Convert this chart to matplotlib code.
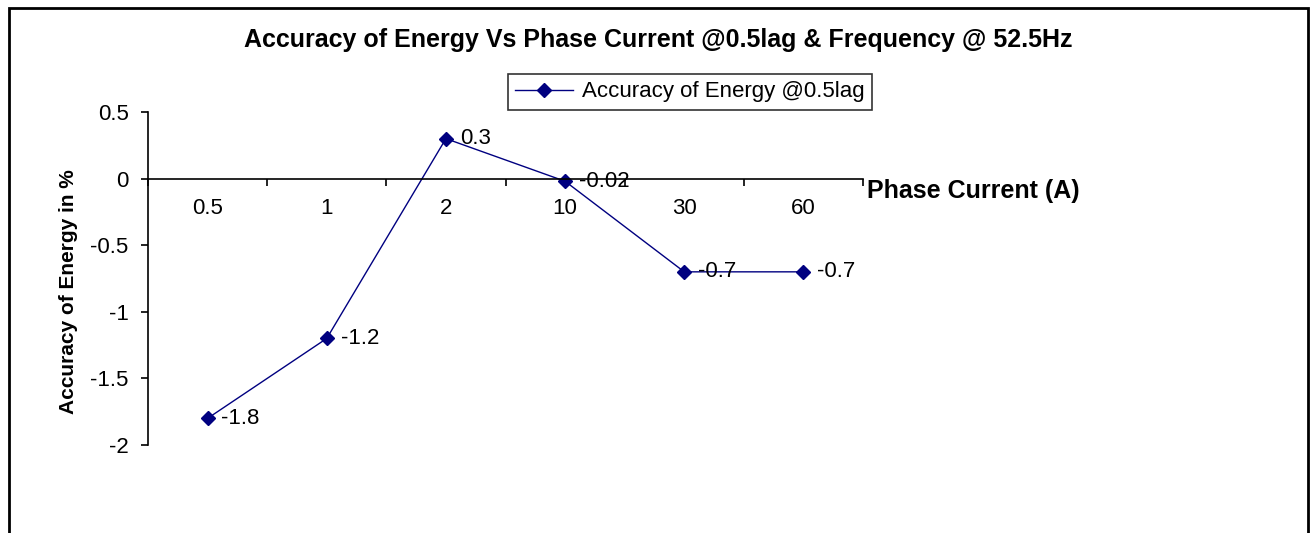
import matplotlib.pyplot as plt
from matplotlib.patches import Rectangle
from matplotlib.ticker import FixedLocator

# Data
currents = ['0.5', '1', '2', '10', '30', '60']
accuracy = [-1.8, -1.2, 0.3, -0.02, -0.7, -0.7]
labels = ['-1.8', '-1.2', '0.3', '-0.02', '-0.7', '-0.7']

plt.rcParams['font.family'] = ['Liberation Sans', 'DejaVu Sans']

fig = plt.figure(figsize=(13.13, 5.33), dpi=100)
ax = fig.add_axes([148 / 1313, 1 - 445 / 533, (863 - 148) / 1313, (445 - 112) / 533])

# outer chart border (bottom edge runs past the image)
fig.patches.append(Rectangle((9 / 1313, -0.05), 1299 / 1313, 1.05 - 8 / 533,
                             transform=fig.transFigure, fill=False,
                             edgecolor='black', linewidth=2))

x = range(len(currents))
ax.plot(x, accuracy, color='#000080', linewidth=1, marker='D', markersize=7,
        label='Accuracy of Energy @0.5lag')

for xi, yi, lab in zip(x, accuracy, labels):
    ax.annotate(lab, (xi, yi), xytext=(10, 0), textcoords='offset points',
                va='center', ha='left', fontsize=16)

ax.set_xlim(-0.5, 5.5)
ax.set_ylim(-2, 0.5)
ax.set_yticks([0.5, 0, -0.5, -1, -1.5, -2])
ax.set_yticklabels(['0.5', '0', '-0.5', '-1', '-1.5', '-2'])

ax.spines['top'].set_visible(False)
ax.spines['right'].set_visible(False)
ax.spines['bottom'].set_position(('data', 0))
ax.spines['left'].set_linewidth(1.2)
ax.spines['bottom'].set_linewidth(1.2)

ax.set_xticks(list(x))
ax.set_xticklabels(currents)
ax.xaxis.set_minor_locator(FixedLocator([i - 0.5 for i in range(len(currents) + 1)]))
ax.tick_params(axis='x', which='major', length=0, pad=14, labelsize=16)
ax.tick_params(axis='x', which='minor', direction='out', length=5, width=1.2)
ax.tick_params(axis='y', direction='out', length=5, width=1.2, labelsize=16, pad=9)

ax.set_ylabel('Accuracy of Energy in %', fontsize=15, fontweight='bold')
ax.yaxis.set_label_coords(-0.098, 0.46)
ax.text(1.006, 0, 'Phase Current (A)', transform=ax.get_yaxis_transform(),
        ha='left', va='top', fontsize=18, fontweight='bold')

fig.text(658 / 1313, 1 - 40 / 533,
         'Accuracy of Energy Vs Phase Current @0.5lag & Frequency @ 52.5Hz',
         ha='center', va='center', fontsize=18, fontweight='bold')

leg = ax.legend(loc='center', bbox_to_anchor=((690 - 148) / (863 - 148), 1 + (112 - 92) / 333),
                fontsize=16, frameon=True, fancybox=False, edgecolor='black',
                handlelength=2.6, handletextpad=0.4, borderpad=0.35, borderaxespad=0)
leg.get_frame().set_linewidth(1.2)

fig.savefig('out.png', dpi=100)
